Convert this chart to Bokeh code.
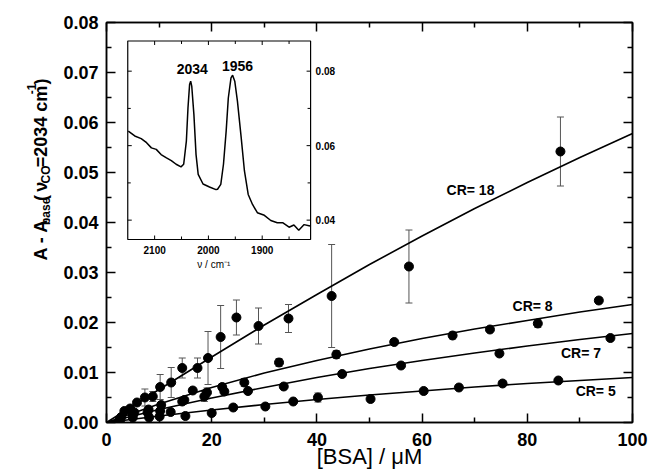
import math
from bokeh.plotting import figure
from bokeh.layouts import row
from bokeh.models import (Range1d, LinearAxis, FixedTicker, ColumnDataSource,
                          Whisker, TeeHead, NumeralTickFormatter, CustomJSTickFormatter)
from bokeh.embed import file_html
from bokeh.resources import INLINE
from bokeh.core.properties import value

# ---------------- data ----------------
bsa_cr18 = [3.4, 4.5, 5.8, 7.3, 8.8, 10.2, 12.3, 14.4, 17.3, 19.3, 21.7, 24.7, 28.9, 34.6, 42.8, 57.5, 86.3]
abs_cr18 = [0.0023, 0.0028, 0.0040, 0.0050, 0.0052, 0.0071, 0.0080, 0.0109, 0.0109, 0.0129, 0.0171,
            0.0210, 0.0193, 0.0208, 0.0253, 0.0312, 0.0542]
err_cr18 = [0.0003, 0.0003, 0.0004, 0.0017, 0.0010, 0.0025, 0.0030, 0.0020, 0.0020, 0.0053, 0.0063,
            0.0035, 0.0036, 0.0028, 0.0103, 0.0073, 0.0069]

bsa_cr8 = [2.8, 5.3, 8.0, 10.4, 14.8, 16.4, 19.1, 22.0, 26.2, 32.8, 43.7, 54.7, 65.8, 72.9, 82.0, 93.6]
abs_cr8 = [0.0011, 0.0020, 0.0026, 0.0035, 0.0045, 0.0064, 0.0060, 0.0071, 0.0080, 0.0120, 0.0136,
           0.0161, 0.0174, 0.0186, 0.0198, 0.0244]
err_cr8 = [0.0, 0.0, 0.0, 0.0, 0.0, 0.0, 0.0009, 0.0007, 0.0008, 0.0008, 0.0008, 0.0, 0.0007, 0.0,
           0.0008, 0.0006]

bsa_cr7 = [2.5, 5.0, 7.8, 10.2, 14.4, 18.6, 22.4, 26.9, 33.7, 44.8, 56.0, 74.7, 95.8]
abs_cr7 = [0.0006, 0.0016, 0.0020, 0.0023, 0.0042, 0.0052, 0.0062, 0.0063, 0.0072, 0.0097, 0.0114,
           0.0138, 0.0169]
err_cr7 = [0.0, 0.0, 0.0, 0.0, 0.0, 0.0010, 0.0, 0.0, 0.0005, 0.0, 0.0, 0.0, 0.0]

bsa_cr5 = [2.6, 5.0, 8.1, 10.1, 12.2, 15.0, 20.0, 24.1, 30.2, 35.5, 40.2, 50.2, 60.3, 67.0, 75.3, 85.9]
abs_cr5 = [0.0005, 0.0010, 0.0010, 0.0012, 0.0021, 0.0013, 0.0019, 0.0030, 0.0032, 0.0042, 0.0050,
           0.0047, 0.0063, 0.0070, 0.0078, 0.0084]
err_cr5 = [0.0, 0.0, 0.0, 0.0, 0.0, 0.0, 0.0, 0.0, 0.0, 0.0, 0.0009, 0.0, 0.0, 0.0, 0.0, 0.0]

# fitted curves
fit_bsa = [0, 10, 20, 30, 40, 50, 60, 70, 80, 90, 100]
fit_cr18 = [0.0, 0.0066, 0.0131, 0.0195, 0.0256, 0.0316, 0.0373, 0.0428, 0.0480, 0.0530, 0.0578]
fit_cr8 = [0.0, 0.0037, 0.0070, 0.0099, 0.0124, 0.0147, 0.0168, 0.0187, 0.0204, 0.0221, 0.0236]
fit_cr7 = [0.0, 0.0026, 0.0049, 0.0070, 0.0090, 0.0108, 0.0124, 0.0139, 0.0153, 0.0166, 0.0178]
fit_cr5 = [0.0, 0.0013, 0.0025, 0.0036, 0.0046, 0.0055, 0.0063, 0.0071, 0.0078, 0.0084, 0.0090]

cr_labels = ["CR= 18", "CR= 8", "CR= 7", "CR= 5"]

# inset IR spectrum
ir_wavenumber = [2149, 2137, 2125, 2115, 2106, 2097, 2088, 2078, 2069, 2060, 2051, 2046, 2041, 2038,
                 2035, 2033, 2031, 2027, 2023, 2019, 2010, 1998, 1986, 1983, 1977, 1972, 1967, 1963,
                 1958, 1955, 1951, 1946, 1939, 1933, 1926, 1918, 1909, 1896, 1884, 1872, 1862, 1850,
                 1841, 1832, 1822, 1811]
ir_absorbance = [0.0639, 0.0626, 0.0619, 0.0608, 0.0594, 0.0590, 0.0576, 0.0567, 0.0560, 0.0550,
                 0.0543, 0.0550, 0.0612, 0.0701, 0.0764, 0.0773, 0.0760, 0.0684, 0.0576, 0.0523,
                 0.0497, 0.0489, 0.0482, 0.0483, 0.0496, 0.0550, 0.0639, 0.0728, 0.0782, 0.0789,
                 0.0773, 0.0719, 0.0621, 0.0532, 0.0469, 0.0442, 0.0420, 0.0413, 0.0399, 0.0393,
                 0.0393, 0.0381, 0.0387, 0.0373, 0.0388, 0.0384]
peak_labels = ["2034", "1956"]

x_ticks = [0, 20, 40, 60, 80, 100]
x_minor = [10, 30, 50, 70, 90]
y_ticks = [0.00, 0.01, 0.02, 0.03, 0.04, 0.05, 0.06, 0.07, 0.08]
y_minor = [0.005, 0.015, 0.025, 0.035, 0.045, 0.055, 0.065, 0.075]
inset_x_ticks = [2100, 2000, 1900]
inset_x_minor = [2050, 1950, 1850]
inset_y_ticks = [0.04, 0.06, 0.08]
inset_y_minor = [0.05, 0.07]

FONT = "Liberation Sans"
TITLE_W = 58          # width of the strip that carries the y-axis title
H = 474

# ---------------- main figure ----------------
p = figure(width=648 - TITLE_W, height=H, output_backend="svg", toolbar_location=None,
           x_range=Range1d(0, 100), y_range=Range1d(0, 0.08),
           min_border_left=106 - TITLE_W, min_border_right=16, min_border_top=22, min_border_bottom=52,
           outline_line_color="black", outline_line_width=1.5)
p.grid.visible = False


def style_axis(ax, ticks, minor, labels):
    ax.ticker = FixedTicker(ticks=ticks, minor_ticks=minor)
    ax.major_tick_in = 9
    ax.major_tick_out = 0
    ax.minor_tick_in = 5
    ax.minor_tick_out = 0
    ax.axis_line_color = "black"
    ax.axis_line_width = 1.5
    ax.major_tick_line_width = 1.5
    ax.minor_tick_line_width = 1.5
    ax.major_tick_line_color = "black"
    ax.minor_tick_line_color = "black"
    if labels:
        ax.major_label_text_font = FONT
        ax.major_label_text_font_style = "bold"
        ax.major_label_text_font_size = "18px"
        ax.major_label_text_color = "black"
    else:
        ax.formatter = CustomJSTickFormatter(code="return ''")
        ax.major_label_standoff = 0


style_axis(p.xaxis[0], x_ticks, x_minor, True)
p.xaxis[0].major_label_standoff = 10
p.xaxis[0].axis_label = "[BSA] / μM"
p.xaxis[0].axis_label_text_font = FONT
p.xaxis[0].axis_label_text_font_style = "normal"
p.xaxis[0].axis_label_text_font_size = "22px"
p.xaxis[0].axis_label_text_color = "black"
p.xaxis[0].axis_label_standoff = -5
style_axis(p.yaxis[0], y_ticks, y_minor, True)
p.yaxis[0].major_label_standoff = 8
p.yaxis[0].formatter = NumeralTickFormatter(format="0.00")

ax_r = LinearAxis()
style_axis(ax_r, y_ticks, y_minor, False)
p.add_layout(ax_r, "right")
ax_t = LinearAxis()
style_axis(ax_t, x_ticks, x_minor, False)
p.add_layout(ax_t, "above")

# fitted curves
for fy in (fit_cr18, fit_cr8, fit_cr7, fit_cr5):
    p.line(fit_bsa, fy, line_color="black", line_width=1.6)

# error bars and points
for xs, ys, es in ((bsa_cr18, abs_cr18, err_cr18), (bsa_cr8, abs_cr8, err_cr8),
                   (bsa_cr7, abs_cr7, err_cr7), (bsa_cr5, abs_cr5, err_cr5)):
    sel = [i for i, e in enumerate(es) if e > 0]
    src = ColumnDataSource(dict(x=[xs[i] for i in sel],
                                lo=[ys[i] - es[i] for i in sel],
                                hi=[ys[i] + es[i] for i in sel]))
    w = Whisker(source=src, base="x", lower="lo", upper="hi",
                line_color="#555555", line_width=1,
                upper_head=TeeHead(size=7, line_color="#555555", line_width=1),
                lower_head=TeeHead(size=7, line_color="#555555", line_width=1))
    p.add_layout(w)
    p.scatter(xs, ys, size=9, marker="circle", fill_color="black", line_color="black")

# CR labels
p.text(x=[69.2, 81.0, 90.2, 93.0], y=[0.0465, 0.0234, 0.0139, 0.0063], text=cr_labels,
       text_font=value(FONT), text_font_style="bold", text_font_size="14px",
       text_align="center", text_baseline="middle", text_color="black")

# ---------------- inset ----------------
ins_x = Range1d(start=2150, end=1810)
ins_y = Range1d(start=0.0348, end=0.0881)
ins = p.subplot(x_source=ins_x, y_source=ins_y,
                x_target=Range1d(start=4.04, end=38.8), y_target=Range1d(start=0.0366, end=0.0763))

ins.quad(left=[ins_x.start], right=[ins_x.end], bottom=[ins_y.start], top=[ins_y.end],
         fill_color="white", line_color="black", line_width=1.2)
ins.line(ir_wavenumber, ir_absorbance, line_color="black", line_width=1.5)

tick_kw = dict(line_color="black", line_width=1, length_units="screen")
for ticks, ln in ((inset_x_ticks, 4), (inset_x_minor, 3)):
    ins.ray(x=ticks, y=[ins_y.start] * len(ticks), length=ln, angle=math.pi / 2, **tick_kw)
    ins.ray(x=ticks, y=[ins_y.end] * len(ticks), length=ln, angle=-math.pi / 2, **tick_kw)
for ticks, ln in ((inset_y_ticks, 4), (inset_y_minor, 3)):
    ins.ray(x=[ins_x.start] * len(ticks), y=ticks, length=ln, angle=0, **tick_kw)
    ins.ray(x=[ins_x.end] * len(ticks), y=ticks, length=ln, angle=math.pi, **tick_kw)

ins.text(x=inset_x_ticks, y=[ins_y.start] * len(inset_x_ticks), text=[str(t) for t in inset_x_ticks],
         y_offset=6, text_align="center", text_baseline="top", text_font=value(FONT),
         text_font_style="bold", text_font_size="10px", text_color="black")
ins.text(x=[ins_x.end] * len(inset_y_ticks), y=inset_y_ticks, text=[f"{t:.2f}" for t in inset_y_ticks],
         x_offset=5, text_align="left", text_baseline="middle", text_font=value(FONT),
         text_font_style="bold", text_font_size="10px", text_color="black")
ins.text(x=[1990], y=[ins_y.start], text=["ν / cm⁻¹"], y_offset=19, text_align="center",
         text_baseline="top", text_font=value(FONT), text_font_size="10px", text_color="black")
ins.text(x=[2030, 1946], y=[0.0805, 0.0815], text=peak_labels, text_align="center",
         text_baseline="middle", text_font=value(FONT), text_font_style="bold",
         text_font_size="14px", text_color="black")

# ---------------- y-axis title strip (with sub/superscripts) ----------------
yt = figure(width=TITLE_W, height=H, output_backend="svg", toolbar_location=None,
            x_range=Range1d(0, TITLE_W), y_range=Range1d(0, H),
            x_axis_location=None, y_axis_location=None, min_border=0,
            outline_line_color=None)
yt.grid.visible = False

W = {"A": .722, " ": .278, "-": .333, "b": .611, "a": .556, "s": .556, "e": .556, "(": .333,
     "ν": .556, "C": .722, "O": .778, "=": .584, "2": .556, "0": .556, "3": .556, "4": .556,
     "c": .556, "m": .889, "1": .556, ")": .333}
pieces = [("A - A", 18, 0), ("base", 12, 5), (" (", 18, 0), ("ν", 18, 0), ("CO", 12, 5),
          (" =2034 cm", 18, 0), ("-1", 12, -9), (")", 18, 0)]
pos = 192.0
for txt, sz, shift in pieces:
    yt.text(x=[40], y=[pos], text=[txt], x_offset=shift, angle=math.pi / 2,
            text_font=value(FONT), text_font_style="bold", text_font_size=f"{sz}px",
            text_align="left", text_baseline="alphabetic", text_color="black")
    pos += sum(W[c] for c in txt) * sz + (1 if sz == 12 else 0)

layout = row(yt, p)
open("out.html", "w").write(file_html(layout, INLINE))
